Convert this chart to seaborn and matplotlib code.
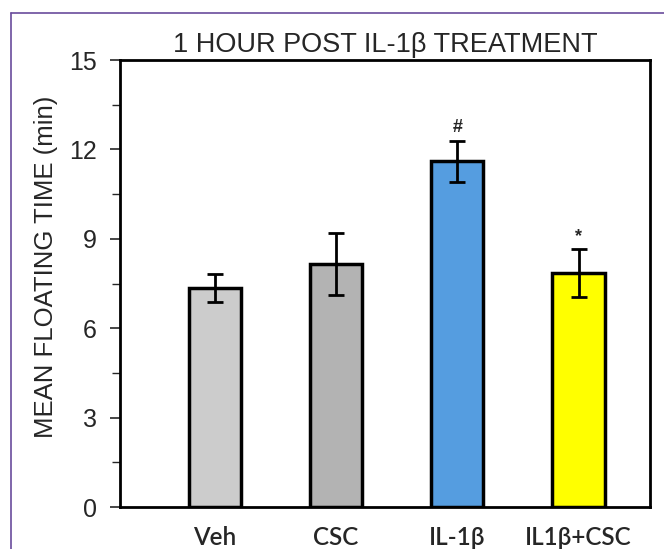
import matplotlib
matplotlib.use("Agg")
import matplotlib.pyplot as plt
from matplotlib.lines import Line2D
from matplotlib.ticker import MultipleLocator
import pandas as pd
import seaborn as sns

groups = ["Veh", "CSC", "IL-1\u03b2", "IL1\u03b2+CSC"]
mean_time = [7.35, 8.15, 11.6, 7.85]
sem_time = [0.47, 1.05, 0.7, 0.8]
marks = ["", "", "#", "*"]
bar_colors = ["#cccccc", "#b3b3b3", "#559de0", "#ffff00"]

df = pd.DataFrame({"group": groups, "mean": mean_time})

sns.set_style("ticks")
plt.rcParams["font.family"] = ["Liberation Sans", "DejaVu Sans"]

fig = plt.figure(figsize=(6.64, 5.49), dpi=100)
ax = fig.add_axes([0.181, 0.0765, 0.798, 0.814])

sns.barplot(data=df, x="group", y="mean", hue="group", palette=bar_colors,
            saturation=1, legend=False, width=0.43, edgecolor="black",
            linewidth=2.5, ax=ax)
ax.errorbar(range(len(groups)), mean_time, yerr=sem_time, fmt="none",
            ecolor="black", elinewidth=2, capsize=6, capthick=2)

for i, (m, s, t) in enumerate(zip(mean_time, sem_time, marks)):
    if t:
        ax.text(i, m + s + 0.15, t, ha="center", va="bottom", fontsize=13,
                fontweight="bold")

ax.set_xlim(-0.78, 3.59)
ax.set_ylim(0, 15)
ax.yaxis.set_major_locator(MultipleLocator(3))
ax.yaxis.set_minor_locator(MultipleLocator(1.5))
ax.tick_params(axis="y", which="major", length=7, width=1.2, labelsize=18, pad=10)
ax.tick_params(axis="y", which="minor", length=6, width=1)
ax.tick_params(axis="x", length=0, pad=14)
for lab in ax.get_xticklabels():
    lab.set_fontfamily(["Lato", "DejaVu Sans"])
    lab.set_fontweight("semibold")
    lab.set_fontsize(17.5)
for sp in ax.spines.values():
    sp.set_visible(True)
    sp.set_linewidth(2)
    sp.set_color("black")

ax.set_xlabel("")
ax.set_ylabel("MEAN FLOATING TIME (min)", fontsize=18.5)
ax.yaxis.set_label_coords(-0.118, 0.537)
ax.set_title("1 HOUR POST IL-1\u03b2 TREATMENT", fontsize=19.5, pad=6)

# purple frame around the figure
fig.add_artist(Line2D([11 / 664, 11 / 664], [0, 1 - 13 / 549], color="#6a4c9c", lw=1.2))
fig.add_artist(Line2D([11 / 664, 1], [1 - 13 / 549, 1 - 13 / 549], color="#6a4c9c", lw=1.2))

fig.savefig("out.png", dpi=100)
